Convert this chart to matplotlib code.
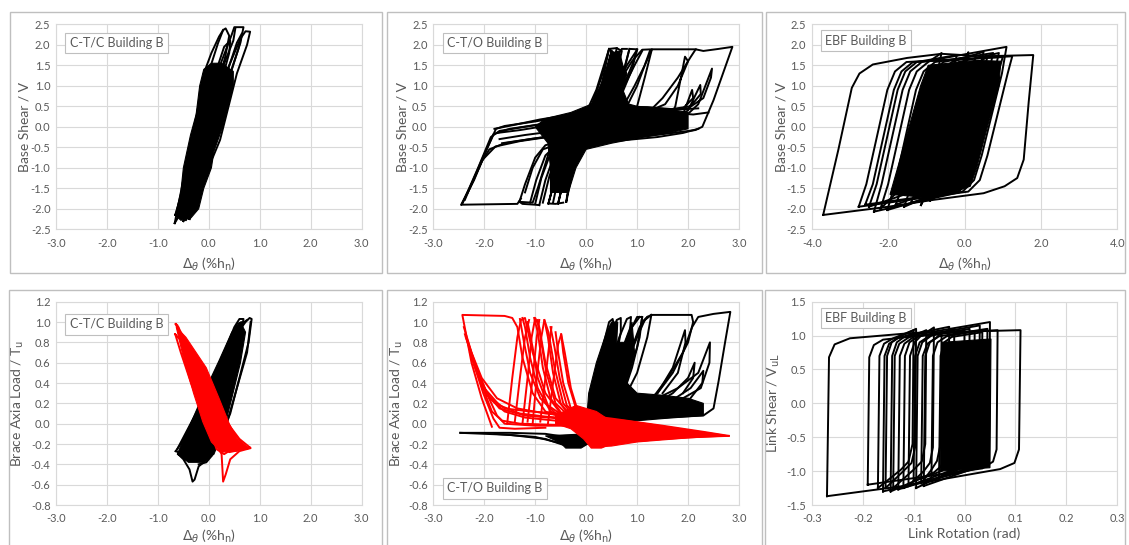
import matplotlib
matplotlib.use("Agg")
import matplotlib.pyplot as plt
from matplotlib.patches import Rectangle
from matplotlib.ticker import FormatStrFormatter

plt.rcParams['font.family'] = ['Lato', 'DejaVu Sans']
plt.rcParams['axes.unicode_minus'] = False

# ---------------- data ----------------
# panel 1: C-T/C base shear vs drift
P1_LOOPS = [
    [(-0.67,-2.35),(-0.55,-1.60),(-0.44,-0.90),(-0.18,0.65),(0.18,2.04),(0.28,2.36),(0.33,2.40),(0.40,2.22),(0.32,1.70),(0.10,0.70),(-0.15,-0.40),(-0.38,-1.50),(-0.55,-2.10),(-0.67,-2.35)],
    [(-0.62,-2.10),(-0.40,-1.10),(-0.10,0.30),(0.25,1.60),(0.45,2.25),(0.50,2.43),(0.68,2.43),(0.62,2.05),(0.42,1.30),(0.15,0.10),(-0.12,-1.10),(-0.35,-2.05),(-0.45,-2.28),(-0.62,-2.10)],
    [(-0.50,-2.30),(-0.28,-1.30),(0.05,0.20),(0.40,1.50),(0.62,2.15),(0.72,2.33),(0.81,2.32),(0.75,2.00),(0.55,1.30),(0.22,-0.32),(0.08,-0.74),(-0.18,-1.30),(-0.30,-1.95),(-0.50,-2.30)],
    [(-0.38,-2.25),(-0.20,-1.40),(0.10,-0.05),(0.40,1.20),(0.58,1.90),(0.65,2.28),(0.55,2.05),(0.35,1.30),(0.05,0.00),(-0.22,-1.20),(-0.38,-2.25)],
    [(-0.66,-2.15),(-0.45,-1.30),(-0.20,-0.10),(0.10,1.20),(0.30,1.95),(0.42,2.10),(0.40,1.80),(0.20,0.90),(-0.05,-0.20),(-0.30,-1.40),(-0.48,-2.20),(-0.66,-2.15)],
    [(-0.10,1.30),(0.05,1.80),(0.20,2.20),(0.28,2.36)],
    [(0.20,1.20),(0.35,1.70),(0.48,2.10),(0.52,2.40)],
]
P1_CORE = [[(-0.66,-2.15),(-0.55,-1.60),(-0.50,-1.00),(-0.36,-0.20),(-0.25,0.30),(-0.18,1.00),(-0.10,1.40),(0.05,1.55),(0.25,1.55),(0.48,1.35),(0.48,1.00),(0.38,0.50),(0.27,0.00),(0.10,-0.60),(0.05,-1.00),(-0.10,-1.50),(-0.20,-2.00),(-0.35,-2.22),(-0.55,-2.28)]]

# panel 2: C-T/O base shear vs drift
P2_LOOPS = [
    [(-1.28,-1.75),(-1.35,-1.88),(-2.45,-1.90),(-2.20,-1.30),(-1.95,-0.55),(-1.77,-0.05),(-1.60,0.02),(-1.00,0.13),(-0.50,0.24),(-0.10,0.33),(0.10,0.50),(0.30,1.20),(0.45,1.90)],
    [(-2.45,-1.90),(-2.25,-1.40),(-2.05,-0.85),(-1.90,-0.55),(-1.60,-0.40),(-1.00,-0.28),(-0.40,-0.18),(0.20,-0.05)],
    [(-2.42,-1.85),(-2.12,-1.00),(-1.87,-0.25),(-1.70,-0.10),(-1.20,0.00),(-0.60,0.12),(0.00,0.25)],
    [(-2.38,-1.78),(-2.08,-0.90),(-1.82,-0.18),(-1.50,-0.05),(-0.80,0.08),(-0.20,0.20)],
    [(-2.33,-1.62),(-2.03,-0.80),(-1.78,-0.48),(-1.30,-0.35),(-0.70,-0.24),(0.00,-0.12)],
    [(-1.80,-0.05),(-1.40,0.05),(-0.90,0.18),(-0.40,0.28),(0.00,0.35)],
    [(-1.75,-0.15),(-1.30,-0.08),(-0.80,0.02),(-0.30,0.12)],
    [(-1.70,-0.30),(-1.20,-0.20),(-0.70,-0.12),(-0.20,-0.02)],
    [(-1.65,-0.40),(-1.10,-0.30),(-0.60,-0.22)],
    [(-1.31,-1.83),(-1.20,-1.40),(-1.00,-0.75),(-0.80,-0.45),(-0.40,-0.30),(0.30,-0.15),(0.80,0.10),(1.00,0.50),(1.15,1.20),(1.29,1.89),(2.15,1.89)],
    [(-0.92,-1.91),(-0.80,-1.30),(-0.60,-0.60),(-0.30,-0.35),(0.20,-0.05),(0.50,0.40),(0.70,1.20),(0.85,1.90),(1.00,1.89),(0.90,1.40),(0.60,0.50),(0.20,0.30),(-0.40,0.05),(-0.70,-0.50),(-0.95,-1.50),(-1.05,-1.85),(-1.31,-1.83)],
    [(-0.74,-1.87),(-0.60,-1.20),(-0.40,-0.50),(-0.10,-0.20),(0.25,0.20),(0.45,1.00),(0.60,1.92),(0.70,1.85),(0.55,1.00),(0.30,0.35),(0.00,0.15),(-0.30,-0.20),(-0.55,-1.00),(-0.74,-1.87)],
    [(-0.55,-1.87),(-0.40,-1.10),(-0.20,-0.40),(0.10,0.20),(0.30,1.00),(0.45,1.90),(0.55,1.80),(0.40,0.90),(0.15,0.30),(-0.15,-0.05),(-0.35,-0.80),(-0.55,-1.87)],
    [(-0.39,-1.83),(-0.25,-1.00),(-0.05,-0.30),(0.20,0.40),(0.40,1.30),(0.50,1.85),(0.42,1.50),(0.20,0.60),(0.00,0.10),(-0.25,-0.60),(-0.39,-1.83)],
    [(-1.10,-1.85),(-0.98,-1.30),(-0.80,-0.70),(-0.55,-0.40),(0.00,-0.20)],
    [(-1.00,-1.88),(-0.88,-1.25),(-0.70,-0.65),(-0.45,-0.35)],
    [(-0.85,-1.85),(-0.72,-1.20),(-0.55,-0.60),(-0.35,-0.30)],
    [(-0.65,-1.85),(-0.52,-1.10),(-0.35,-0.50),(-0.15,-0.25)],
    [(-1.20,-1.60),(-1.05,-1.00),(-0.85,-0.55),(-0.50,-0.40)],
    [(-1.31,-1.83),(-1.25,-1.88),(-1.00,-1.90),(-0.92,-1.91)],
    [(-0.74,-1.87),(-0.60,-1.88),(-0.45,-1.85)],
    [(-0.20,-0.40),(0.50,-0.30),(1.20,-0.22),(1.70,-0.15),(2.14,-0.08),(2.28,0.00),(2.50,0.65),(2.87,1.95),(2.60,1.90),(2.30,1.85),(2.15,1.89),(2.05,1.70),(1.80,1.20),(1.50,0.70),(1.30,0.45),(0.90,0.35),(0.40,0.35)],
    [(0.50,-0.20),(1.20,-0.10),(1.60,0.10),(1.75,0.50),(1.94,1.71),(2.00,1.60),(1.80,1.00),(1.55,0.55),(1.30,0.42),(0.80,0.35)],
    [(0.60,-0.15),(1.40,0.00),(1.90,0.20),(2.20,0.55),(2.47,1.42),(2.45,1.20),(2.30,0.70),(2.00,0.45),(1.60,0.40),(1.00,0.30)],
    [(0.80,-0.10),(1.50,0.05),(1.90,0.30),(2.08,0.90),(2.10,0.70),(1.90,0.45),(1.40,0.35)],
    [(0.90,-0.05),(1.60,0.10),(2.00,0.40),(2.24,1.02),(2.25,0.80),(2.05,0.50),(1.50,0.40)],
    [(0.20,0.30),(0.60,1.00),(0.90,1.60),(1.10,1.88),(1.29,1.89),(1.15,1.50),(0.95,1.00),(0.75,0.55),(0.50,0.35)],
    [(0.00,0.35),(0.20,0.90),(0.35,1.50),(0.45,1.90),(0.60,1.92)],
    [(0.15,0.40),(0.35,1.00),(0.55,1.60),(0.70,1.90),(0.80,1.90)],
    [(0.40,0.45),(0.60,1.00),(0.80,1.50),(1.00,1.88)],
    [(0.50,0.45),(0.75,1.00),(0.95,1.50),(1.10,1.85)],
    [(0.80,0.50),(1.00,1.00),(1.15,1.50),(1.25,1.85)],
    [(1.00,1.89),(0.90,1.50),(0.70,0.90),(0.50,0.50)],
    [(0.85,1.90),(0.75,1.40),(0.55,0.80),(0.35,0.45)],
    [(0.00,0.42),(0.60,0.48),(1.20,0.48),(1.80,0.42),(2.20,0.45)],
    [(0.20,-0.40),(0.80,-0.32),(1.40,-0.25),(1.90,-0.15),(2.20,-0.05)],
    [(0.40,0.40),(1.00,0.40),(1.60,0.35),(2.10,0.30),(2.40,0.35)],
]
P2_CORE = [
    [(-0.70,-1.60),(-0.35,-1.60),(-0.20,-1.00),(0.00,-0.55),(0.50,-0.40),(1.00,-0.28),(1.50,-0.18),(2.00,-0.05),(2.00,0.35),(1.50,0.45),(1.00,0.50),(0.70,0.60),(0.65,1.20),(0.35,1.20),(0.20,0.80),(0.10,0.55),(-0.30,0.35),(-0.80,0.20),(-1.00,0.00),(-0.75,-0.40),(-0.70,-1.00)],
    [(0.15,0.45),(0.35,1.20),(0.50,1.80),(0.65,1.85),(0.72,1.50),(0.80,1.30),(0.72,0.90),(0.85,0.50)],
]

# panel 3: EBF base shear vs drift
P3_LOOPS = [
    [(-3.70,-2.15),(-3.30,-0.55),(-2.95,0.95),(-2.75,1.30),(-2.40,1.52),(-1.50,1.68),(-0.60,1.78),(0.50,1.72),(1.80,1.75),(1.68,0.60),(1.55,-0.80),(1.38,-1.25),(1.05,-1.45),(0.50,-1.62),(-0.80,-1.78),(-2.00,-1.95),(-3.70,-2.15)],
    [(-2.77,-1.95),(-2.57,-1.40),(-2.02,0.90),(-1.82,1.35),(-1.52,1.58),(1.25,1.72),(1.13,1.30),(0.60,-0.70),(0.40,-1.30),(0.10,-1.58),(-2.77,-1.95)],
    [(-2.37,-2.07),(-2.17,-1.40),(-1.62,0.90),(-1.42,1.35),(-1.12,1.58),(1.10,1.95),(0.98,1.30),(0.45,-0.70),(0.25,-1.30),(-0.05,-1.58),(-2.37,-2.07)],
    [(-2.02,-2.03),(-1.82,-1.40),(-1.27,0.90),(-1.07,1.35),(-0.77,1.58),(0.75,1.80),(0.63,1.30),(0.10,-0.70),(-0.10,-1.30),(-0.40,-1.58),(-2.02,-2.03)],
    [(-1.58,-1.95),(-1.38,-1.40),(-0.83,0.90),(-0.63,1.35),(-0.33,1.58),(0.50,1.83),(0.38,1.30),(-0.15,-0.70),(-0.35,-1.30),(-0.65,-1.58),(-1.58,-1.95)],
    [(-1.14,-1.91),(-0.94,-1.40),(-0.39,0.90),(-0.19,1.35),(0.00,1.58),(0.10,1.82),(-0.02,1.30),(-0.55,-0.70),(-0.75,-1.30),(-0.95,-1.58),(-1.14,-1.91)],
    [(-2.20,-2.00),(-2.00,-1.40),(-1.45,0.90),(-1.25,1.35),(-0.95,1.58),(-0.60,1.80),(-0.72,1.30),(-1.25,-0.70),(-1.45,-1.30),(-1.75,-1.58),(-2.20,-2.00)],
    [(-1.80,-1.90),(-1.60,-1.40),(-1.05,0.90),(-0.85,1.35),(-0.55,1.58),(0.30,1.75),(0.18,1.30),(-0.35,-0.70),(-0.55,-1.30),(-0.85,-1.58),(-1.80,-1.90)],
    [(-1.40,-1.85),(-1.20,-1.40),(-0.65,0.90),(-0.45,1.35),(-0.15,1.58),(0.90,1.80),(0.78,1.30),(0.25,-0.70),(0.05,-1.30),(-0.25,-1.58),(-1.40,-1.85)],
    [(-0.90,-1.80),(-0.70,-1.40),(-0.15,0.90),(0.05,1.35),(0.30,1.55),(0.60,1.70),(0.48,1.30),(-0.05,-0.70),(-0.25,-1.30),(-0.55,-1.58),(-0.90,-1.80)],
    [(-2.50,-1.95),(-2.30,-1.40),(-1.75,0.90),(-1.55,1.35),(-1.25,1.58),(-0.20,1.75),(-0.32,1.30),(-0.85,-0.70),(-1.05,-1.30),(-1.35,-1.58),(-2.50,-1.95)],
    [(-2.60,-1.90),(-2.40,-1.40),(-1.85,0.90),(-1.65,1.35),(-1.35,1.58),(1.00,1.70),(0.88,1.30),(0.35,-0.70),(0.15,-1.30),(-0.15,-1.58),(-2.60,-1.90)],
]
P3_CORE = [[(-1.95,-1.65),(-1.75,-1.00),(-1.45,0.00),(-1.15,1.00),(-0.95,1.50),(0.30,1.62),(0.95,1.60),(0.90,1.00),(0.60,0.00),(0.32,-1.00),(0.15,-1.45),(-0.30,-1.60),(-1.00,-1.72)]]

# panel 4: C-T/C brace axial load (black = brace 1, red = brace 2)
P4_BLACK = [
    [(-0.65,-0.27),(-0.55,-0.20),(-0.30,0.05),(0.00,0.35),(0.30,0.70),(0.50,0.95),(0.60,1.03),(0.68,1.03),(0.62,0.85),(0.45,0.50),(0.30,0.20),(0.15,-0.05),(0.00,-0.30),(-0.20,-0.35),(-0.50,-0.30),(-0.65,-0.27)],
    [(-0.60,-0.30),(-0.40,-0.15),(-0.10,0.20),(0.20,0.55),(0.50,0.85),(0.72,1.00),(0.80,1.04),(0.84,1.03),(0.78,0.80),(0.60,0.45),(0.42,0.10),(0.30,-0.05),(0.05,-0.30),(-0.10,-0.38),(-0.20,-0.42),(-0.28,-0.55),(-0.32,-0.57),(-0.38,-0.45),(-0.50,-0.35),(-0.60,-0.30)],
    [(-0.55,-0.25),(-0.35,-0.05),(-0.05,0.30),(0.25,0.65),(0.55,0.98),(0.65,1.00),(0.58,0.75),(0.40,0.40),(0.20,0.05),(0.00,-0.25),(-0.30,-0.30),(-0.55,-0.25)],
    [(-0.62,-0.25),(-0.20,0.15),(0.20,0.55),(0.55,0.95),(0.75,1.02)],
    [(-0.45,-0.35),(0.00,-0.30),(0.20,-0.20),(0.35,0.00),(0.55,0.35),(0.75,0.70),(0.82,1.00)],
    [(-0.20,-0.40),(-0.05,-0.38),(0.05,-0.32)],
]
P4_BLACK_CORE = [[(-0.62,-0.30),(-0.40,-0.05),(-0.10,0.30),(0.20,0.62),(0.45,0.90),(0.62,1.00),(0.72,0.90),(0.62,0.60),(0.45,0.25),(0.30,-0.05),(0.10,-0.30),(-0.10,-0.38),(-0.40,-0.38)]]
P4_RED = [
    [(-0.65,0.98),(-0.60,0.92),(-0.45,0.65),(-0.20,0.25),(0.00,-0.02),(0.20,-0.20),(0.40,-0.28),(0.60,-0.26),(0.80,-0.23),(0.75,-0.25),(0.50,-0.10),(0.20,0.15),(-0.10,0.45),(-0.40,0.75),(-0.62,0.97),(-0.65,0.98)],
    [(-0.66,0.88),(-0.55,0.70),(-0.35,0.40),(-0.10,0.08),(0.10,-0.15),(0.25,-0.30),(0.28,-0.57),(0.33,-0.50),(0.42,-0.35),(0.60,-0.27),(0.82,-0.24),(0.60,-0.15),(0.30,0.05),(0.00,0.30),(-0.30,0.60),(-0.55,0.82),(-0.66,0.88)],
    [(-0.60,0.95),(-0.40,0.62),(-0.15,0.20),(0.05,-0.10),(0.15,-0.25),(0.30,-0.30),(0.55,-0.22),(0.80,-0.24)],
]
P4_RED_CORE = [[(-0.64,0.95),(-0.50,0.65),(-0.30,0.30),(-0.12,0.02),(0.05,-0.18),(0.25,-0.28),(0.55,-0.27),(0.78,-0.24),(0.55,-0.15),(0.40,0.00),(0.20,0.25),(-0.05,0.55),(-0.45,0.85)]]

# panel 5: C-T/O brace axial load
P5_BLACK = [
    [(-2.47,-0.09),(-1.50,-0.09),(-0.80,-0.10),(-0.40,-0.13),(0.00,-0.12),(0.20,-0.05),(0.40,0.00)],
    [(-2.47,-0.09),(-1.50,-0.11),(-0.80,-0.15),(-0.50,-0.20),(-0.30,-0.23),(-0.10,-0.22),(0.05,-0.17),(0.20,-0.10)],
    [(-1.80,-0.10),(-1.00,-0.13),(-0.60,-0.18),(-0.30,-0.21),(0.00,-0.20),(0.30,-0.08)],
    [(0.20,0.05),(1.00,0.05),(1.90,0.07),(2.30,0.08),(2.50,0.15),(2.60,0.42),(2.73,0.81),(2.83,1.10),(2.50,1.08),(2.20,1.05),(2.08,0.95),(1.90,0.70),(1.60,0.45),(1.30,0.25)],
    [(0.10,0.10),(0.50,0.30),(0.80,0.60),(1.00,0.85),(1.15,1.02),(1.28,1.07),(2.07,1.07),(2.10,1.00),(2.00,0.80),(1.70,0.50),(1.40,0.30),(1.00,0.15)],
    [(0.00,0.05),(0.15,0.35),(0.30,0.70),(0.45,1.00),(0.52,1.03),(0.55,0.95),(0.45,0.60),(0.30,0.25),(0.20,0.10)],
    [(0.05,0.05),(0.25,0.40),(0.45,0.80),(0.60,1.02),(0.68,1.04),(0.68,0.90),(0.55,0.55),(0.40,0.25),(0.30,0.12)],
    [(0.15,0.08),(0.40,0.45),(0.65,0.85),(0.80,1.03),(0.88,1.05),(0.85,0.85),(0.70,0.50),(0.55,0.25)],
    [(0.25,0.10),(0.55,0.50),(0.85,0.90),(1.00,1.05),(1.10,1.05),(1.05,0.85),(0.90,0.55),(0.70,0.25)],
    [(0.40,0.15),(0.75,0.55),(1.05,0.95),(1.20,1.05),(1.28,1.07)],
    [(0.30,0.15),(0.60,0.55),(0.90,0.95),(1.05,1.05)],
    [(0.45,0.20),(0.80,0.60),(1.10,1.00),(1.20,1.05)],
    [(1.28,1.07),(1.20,0.85),(1.00,0.50),(0.80,0.30)],
    [(1.10,1.05),(1.00,0.75),(0.80,0.45),(0.60,0.30)],
    [(0.90,0.15),(1.40,0.30),(1.70,0.55),(1.94,0.92),(1.95,0.80),(1.80,0.50),(1.50,0.30)],
    [(1.20,0.20),(1.80,0.35),(2.20,0.50),(2.43,0.80),(2.42,0.60),(2.25,0.35),(1.90,0.25),(1.50,0.18)],
    [(1.20,0.15),(1.70,0.30),(2.00,0.45),(2.13,0.60),(2.10,0.45),(1.90,0.30)],
    [(1.00,0.10),(1.60,0.20),(2.05,0.35),(2.30,0.52),(2.28,0.40),(2.00,0.22)],
]
P5_BLACK_CORE = [
    [(0.00,-0.02),(0.05,0.30),(0.20,0.60),(0.40,0.90),(0.50,1.00),(0.62,1.00),(0.60,0.80),(0.75,0.80),(0.90,1.00),(0.95,0.70),(0.80,0.40),(1.00,0.30),(1.50,0.28),(2.00,0.25),(2.30,0.20),(2.30,0.08),(1.50,0.05),(0.80,0.02)],
    [(-0.80,-0.12),(-0.50,-0.19),(-0.40,-0.24),(-0.10,-0.24),(0.10,-0.18),(0.00,-0.10),(-0.40,-0.11)],
]
P5_RED = [
    [(-1.85,-0.03),(-2.05,0.25),(-2.25,0.60),(-2.43,1.07),(-1.60,1.06),(-1.45,1.04),(-1.35,0.95),(-1.25,0.65),(-1.05,0.30),(-0.80,0.12),(-0.40,0.05),(0.00,0.00)],
    [(-2.38,0.88),(-2.20,0.60),(-2.00,0.35),(-1.70,0.18),(-1.30,0.10),(-0.80,0.07),(-0.30,0.05),(0.10,0.03)],
    [(-2.33,0.82),(-2.12,0.50),(-1.90,0.25),(-1.60,0.12),(-1.20,0.06),(-0.60,0.03),(0.00,0.00)],
    [(-2.30,0.75),(-2.05,0.38),(-1.85,0.12),(-1.65,0.03),(-1.30,0.00),(-0.70,-0.01),(0.00,-0.02)],
    [(-2.28,0.70),(-2.02,0.30),(-1.82,0.05),(-1.70,-0.04),(-1.40,-0.05),(-0.80,-0.04)],
    [(-2.20,0.58),(-1.95,0.28),(-1.60,0.15),(-1.10,0.12),(-0.50,0.10),(0.00,0.08)],
    [(-2.40,0.95),(-2.25,0.70),(-2.05,0.45),(-1.75,0.25),(-1.35,0.15),(-0.80,0.10),(0.00,0.06)],
    [(-2.36,0.85),(-2.15,0.55),(-1.95,0.30),(-1.70,0.15),(-1.20,0.08),(-0.50,0.05)],
    [(-2.25,0.65),(-2.00,0.35),(-1.75,0.08),(-1.60,0.00),(-1.00,-0.02),(-0.30,-0.02)],
    [(-1.25,1.04),(-1.20,0.95),(-1.10,0.65),(-0.95,0.35),(-0.70,0.12),(-0.40,0.05),(0.00,0.00)],
    [(-1.02,1.04),(-0.95,0.90),(-0.85,0.55),(-0.70,0.25),(-0.45,0.08),(-0.10,0.02)],
    [(-0.82,1.02),(-0.75,0.85),(-0.65,0.50),(-0.50,0.20),(-0.30,0.06),(0.00,0.02)],
    [(-0.49,0.88),(-0.45,0.70),(-0.35,0.40),(-0.20,0.15),(0.00,0.05)],
    [(-1.30,1.03),(-1.22,0.80),(-1.10,0.50),(-0.90,0.25),(-0.60,0.10),(-0.20,0.03)],
    [(-1.15,1.00),(-1.05,0.75),(-0.95,0.45),(-0.75,0.18),(-0.40,0.06)],
    [(-0.95,1.02),(-0.88,0.80),(-0.78,0.50),(-0.60,0.20),(-0.30,0.06)],
    [(-0.70,0.95),(-0.62,0.75),(-0.52,0.45),(-0.38,0.18),(-0.10,0.05)],
    [(-0.60,0.90),(-0.55,0.70),(-0.45,0.40),(-0.30,0.15),(0.00,0.05)],
    [(-1.55,0.00),(-1.45,0.45),(-1.35,0.85),(-1.28,1.02),(-1.20,1.04),(-1.05,0.70),(-0.80,0.30),(-0.50,0.10)],
    [(-1.25,0.00),(-1.15,0.45),(-1.07,0.85),(-1.00,1.04),(-0.92,0.95),(-0.80,0.60),(-0.60,0.25),(-0.30,0.08)],
    [(-1.05,0.00),(-0.97,0.45),(-0.88,0.85),(-0.82,1.02),(-0.74,0.90),(-0.62,0.55),(-0.45,0.20),(-0.20,0.05)],
    [(-0.75,0.00),(-0.65,0.40),(-0.55,0.78),(-0.49,0.88),(-0.42,0.70),(-0.30,0.35),(-0.15,0.10)],
    [(-1.40,0.02),(-1.30,0.45),(-1.20,0.85),(-1.12,1.02)],
    [(-1.15,0.02),(-1.05,0.45),(-0.97,0.85),(-0.92,1.02)],
    [(-0.90,0.02),(-0.80,0.45),(-0.72,0.80),(-0.68,0.95)],
    [(-0.30,0.10),(0.50,0.05),(1.50,-0.02),(2.30,-0.08),(2.80,-0.12)],
    [(0.20,-0.22),(0.80,-0.18),(1.50,-0.15),(2.20,-0.13),(2.80,-0.12)],
]
P5_RED_CORE = [
    [(0.00,0.07),(0.80,0.03),(1.60,-0.03),(2.80,-0.12),(2.00,-0.14),(1.00,-0.18),(0.50,-0.22),(0.15,-0.23)],
    [(-0.60,0.08),(-0.20,0.18),(0.20,0.12),(0.50,0.02),(0.50,-0.20),(0.30,-0.24),(0.10,-0.24),(-0.05,-0.15),(-0.30,-0.05),(-0.60,0.00)],
]

# panel 6: EBF link shear vs link rotation
P6_LOOPS = [
    [(-0.270,-1.37),(-0.266,0.68),(-0.255,0.87),(-0.225,0.96),(-0.100,1.04),(0.110,1.08),(0.107,-0.68),(0.098,-0.88),(0.070,-0.97),(-0.120,-1.22),(-0.270,-1.37)],
    [(-0.190,-1.20),(-0.187,0.68),(-0.178,0.86),(-0.160,0.94),(-0.050,1.03),(0.065,1.08),(0.063,-0.68),(0.056,-0.86),(0.035,-0.96),(-0.190,-1.20)],
    [(-0.160,-1.30),(-0.157,0.70),(-0.148,0.88),(-0.130,0.97),(0.050,1.20),(0.048,-0.65),(0.041,-0.85),(0.020,-0.97),(-0.160,-1.30)],
    [(-0.145,-1.30),(-0.142,0.70),(-0.133,0.90),(-0.115,1.00),(-0.030,1.13),(-0.032,-0.65),(-0.039,-0.88),(-0.060,-1.02),(-0.145,-1.30)],
    [(-0.130,-1.27),(-0.127,0.70),(-0.118,0.88),(-0.100,0.98),(0.030,1.15),(0.028,-0.65),(0.021,-0.86),(0.000,-0.98),(-0.130,-1.27)],
    [(-0.110,-1.22),(-0.107,0.70),(-0.098,0.90),(-0.085,1.00),(-0.060,1.12),(-0.062,-0.65),(-0.068,-0.88),(-0.080,-1.00),(-0.110,-1.22)],
    [(-0.095,-1.25),(-0.092,0.70),(-0.083,0.90),(-0.065,1.00),(0.010,1.10),(0.008,-0.65),(0.001,-0.86),(-0.020,-0.98),(-0.095,-1.25)],
    [(-0.080,-1.22),(-0.077,0.70),(-0.068,0.90),(-0.050,0.99),(0.045,1.10),(0.043,-0.65),(0.036,-0.86),(0.015,-0.97),(-0.080,-1.22)],
    [(-0.155,-1.25),(-0.152,0.70),(-0.143,0.90),(-0.125,0.99),(-0.095,1.10),(-0.097,-0.65),(-0.104,-0.88),(-0.120,-1.00),(-0.155,-1.25)],
    [(-0.100,-1.15),(-0.097,0.70),(-0.088,0.90),(-0.070,0.99),(-0.020,1.10),(-0.022,-0.65),(-0.029,-0.88),(-0.045,-1.00),(-0.100,-1.15)],
    [(-0.050,-1.10),(-0.047,0.70),(-0.040,0.90),(-0.025,0.98),(0.035,1.05),(0.033,-0.65),(0.026,-0.86),(0.010,-0.96),(-0.050,-1.10)],
    [(-0.170,-1.25),(-0.167,0.70),(-0.158,0.88),(-0.140,0.96),(-0.100,1.08),(-0.102,-0.60),(-0.110,-0.86),(-0.125,-0.98),(-0.170,-1.25)],
    [(-0.120,-1.25),(-0.117,0.70),(-0.108,0.90),(-0.090,0.99),(0.000,1.08),(-0.002,-0.65),(-0.009,-0.88),(-0.030,-1.00),(-0.120,-1.25)],
    [(-0.065,-1.15),(-0.062,0.70),(-0.053,0.90),(-0.035,0.99),(0.020,1.06),(0.018,-0.65),(0.011,-0.86),(-0.010,-0.97),(-0.065,-1.15)],
    [(-0.085,-1.18),(-0.082,0.70),(-0.073,0.88),(-0.055,0.97),(-0.045,1.05),(-0.047,-0.60),(-0.054,-0.85),(-0.065,-0.98),(-0.085,-1.18)],
    [(-0.140,-1.25),(-0.137,0.70),(-0.128,0.88),(-0.110,0.97),(-0.075,1.08),(-0.077,-0.60),(-0.084,-0.86),(-0.100,-0.98),(-0.140,-1.25)],
]
P6_CORE = [[(-0.048,-1.00),(-0.045,0.90),(0.052,0.95),(0.050,-0.95)]]

DRIFT = r'$\Delta_\theta$ (%h$_\mathrm{n}$)'
X_DRIFT = [-3, -2, -1, 0, 1, 2, 3]
X_EBF = [-4, -2, 0, 2, 4]
X_ROT = [-0.3, -0.2, -0.1, 0.0, 0.1, 0.2, 0.3]
Y_SHEAR = [-2.5, -2.0, -1.5, -1.0, -0.5, 0.0, 0.5, 1.0, 1.5, 2.0, 2.5]
Y_BRACE = [-0.8, -0.6, -0.4, -0.2, 0.0, 0.2, 0.4, 0.6, 0.8, 1.0, 1.2]
Y_LINK = [-1.5, -1.0, -0.5, 0.0, 0.5, 1.0, 1.5]

GRID = '#d9d9d9'
TXT = '#595959'
LW = 1.4

fig = plt.figure(figsize=(11.29, 5.45), dpi=100)

# panel frames (pixel boxes -> figure fraction)
W, H = 1129.0, 545.0
for x0, y0, x1, y1 in [(10, 12, 382, 273), (387, 12, 762, 273), (766, 12, 1125, 273),
                       (9, 290, 382, 546), (387, 290, 762, 546), (765, 290, 1125, 546)]:
    fig.add_artist(Rectangle((x0 / W, 1 - y1 / H), (x1 - x0) / W, (y1 - y0) / H,
                             transform=fig.transFigure, fill=False, edgecolor='#bfbfbf', lw=1.0))


def draw(ax, curves, cores, color):
    for c in cores:
        xs, ys = zip(*c)
        ax.fill(xs, ys, color=color, lw=0.8, zorder=3)
    for c in curves:
        xs, ys = zip(*c)
        ax.plot(xs, ys, color=color, lw=LW, solid_joinstyle='round', zorder=3)


def style(ax, xticks, yticks, xlabel, ylabel, label, lab_y, xlab_y, ylab_x):
    ax.set_xlim(xticks[0], xticks[-1])
    ax.set_ylim(yticks[0], yticks[-1])
    ax.set_xticks(xticks)
    ax.set_yticks(yticks)
    ax.xaxis.set_major_formatter(FormatStrFormatter('%.1f'))
    ax.yaxis.set_major_formatter(FormatStrFormatter('%.1f'))
    ax.grid(True, color=GRID, lw=0.8)
    ax.set_axisbelow(True)
    for s in ax.spines.values():
        s.set_color(GRID)
        s.set_linewidth(0.8)
    ax.tick_params(length=0, labelsize=8, labelcolor=TXT)
    ax.tick_params(axis='x', pad=6)
    ax.tick_params(axis='y', pad=4)
    ax.set_xlabel(xlabel, fontsize=10, color=TXT)
    ax.set_ylabel(ylabel, fontsize=10, color=TXT)
    ax.xaxis.set_label_coords(0.5, xlab_y)
    ax.yaxis.set_label_coords(ylab_x, 0.5)
    ax.text(0.045, lab_y, label, transform=ax.transAxes, fontsize=9, color=TXT,
            ha='left', va='center', zorder=5,
            bbox=dict(boxstyle='square,pad=0.35', fc='white', ec='#bfbfbf', lw=0.8))


def axes_at(x0, x1, y0, y1):
    return fig.add_axes([x0 / W, 1 - y1 / H, (x1 - x0) / W, (y1 - y0) / H])


ax1 = axes_at(56, 361.7, 24.3, 229.3)
draw(ax1, P1_LOOPS, P1_CORE, 'black')
style(ax1, X_DRIFT, Y_SHEAR, DRIFT, 'Base Shear / V', 'C-T/C Building B', 0.909, -0.13, -0.082)

ax2 = axes_at(433.3, 739, 24.3, 229.3)
draw(ax2, P2_LOOPS, P2_CORE, 'black')
style(ax2, X_DRIFT, Y_SHEAR, DRIFT, 'Base Shear / V', 'C-T/O Building B', 0.909, -0.13, -0.082)

ax3 = axes_at(811.7, 1117.3, 24.3, 229.3)
draw(ax3, P3_LOOPS, P3_CORE, 'black')
style(ax3, X_EBF, Y_SHEAR, DRIFT, 'Base Shear / V', 'EBF Building B', 0.92, -0.13, -0.08)

ax4 = axes_at(56, 361.7, 301.7, 505)
draw(ax4, P4_BLACK, P4_BLACK_CORE, 'black')
draw(ax4, P4_RED, P4_RED_CORE, 'red')
style(ax4, X_DRIFT, Y_BRACE, DRIFT, r'Brace Axia Load / T$_\mathrm{u}$', 'C-T/C Building B', 0.889, -0.11, -0.098)

ax5 = axes_at(433.3, 739, 301.7, 505)
draw(ax5, P5_BLACK, P5_BLACK_CORE, 'black')
draw(ax5, P5_RED, P5_RED_CORE, 'red')
style(ax5, X_DRIFT, Y_BRACE, DRIFT, r'Brace Axia Load / T$_\mathrm{u}$', 'C-T/O Building B', 0.082, -0.11, -0.093)

ax6 = axes_at(811.7, 1117.3, 301.7, 505)
draw(ax6, P6_LOOPS, P6_CORE, 'black')
style(ax6, X_ROT, Y_LINK, 'Link Rotation (rad)', r'Link Shear / V$_\mathrm{uL}$', 'EBF Building B', 0.92, -0.11, -0.097)

fig.savefig('out.png', dpi=100)
